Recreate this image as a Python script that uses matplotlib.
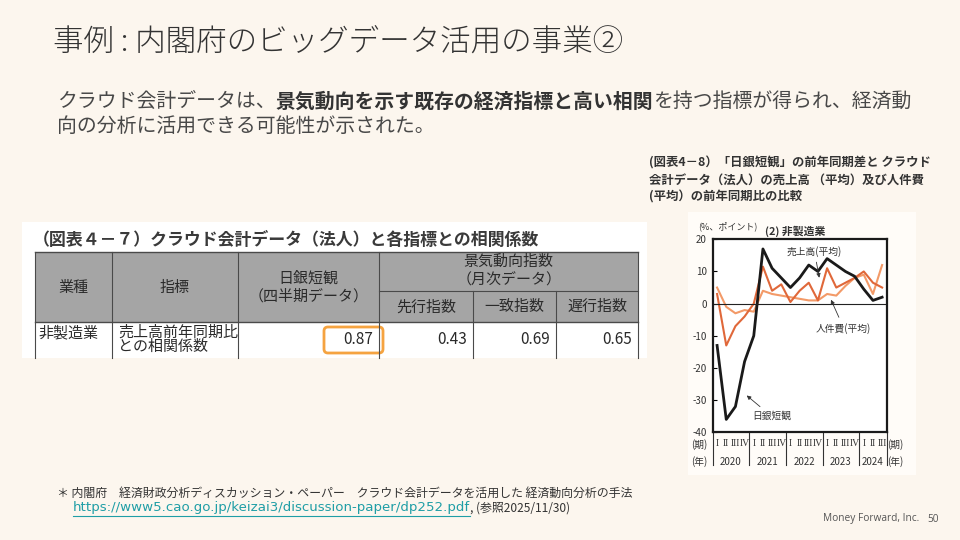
import numpy as np
import matplotlib
matplotlib.use('Agg')
import matplotlib.pyplot as plt
import matplotlib.transforms as mtransforms
from matplotlib.patches import Rectangle, FancyBboxPatch

plt.rcParams['font.family'] = ['Noto Sans CJK JP', 'DejaVu Sans']

W, H = 960, 540
bg = '#fcf6ee'

# ---- slide text
title = '事例 : 内閣府のビッグデータ活用の事業②'
body1 = [('クラウド会計データは、', 'normal'),
         ('景気動向を示す既存の経済指標と高い相関', 'bold'),
         ('を持つ指標が得られ、経済動', 'normal')]
body2 = '向の分析に活用できる可能性が示された。'
note1 = '＊ 内閣府　経済財政分析ディスカッション・ペーパー　クラウド会計データを活用した 経済動向分析の手法'
note_url = 'https://www5.cao.go.jp/keizai3/discussion-paper/dp252.pdf'
note_ref = ', (参照2025/11/30)'
caption = ['(図表4－8）「日銀短観」の前年同期差と クラウド',
           '会計データ（法人）の売上高 （平均）及び人件費',
           '(平均）の前年同期比の比較']

# ---- table data
tbl_title = '（図表４－７）クラウド会計データ（法人）と各指標との相関係数'
hdr_industry = '業種'
hdr_indicator = '指標'
hdr_tankan = ['日銀短観', '（四半期データ）']
hdr_ci = ['景気動向指数', '（月次データ）']
hdr_ci_sub = ['先行指数', '一致指数', '遅行指数']
row_industry = '非製造業'
row_indicator = ['売上高前年同期比', 'との相関係数']
row_corr = [0.87, 0.43, 0.69, 0.65]

# ---- chart data (2020 I .. 2024 III)
years = ['2020', '2021', '2022', '2023', '2024']
quarters = ['I', 'II', 'III', 'IV']
n_quarters = [4, 4, 4, 4, 3]
tankan = [-13, -36, -32, -18, -10, 17, 11, 8, 5, 8, 12, 10, 14, 12, 10, 8.5, 4.5, 1, 2]
sales = [3, -13, -7, -4, 0, 11.5, 4, 6, 0.5, 4, 6.5, 1, 11, 5, 6.5, 8, 10, 6.5, 5]
labor = [5, -1, -3, -2, -2.5, 4, 3, 2.5, 2, 1.5, 1, 1, 3, 2.5, 5.5, 8, 9, 3, 12]

fig = plt.figure(figsize=(9.6, 5.4), dpi=100)
fig.patch.set_facecolor(bg)
ax0 = fig.add_axes([0, 0, 1, 1])
ax0.set_xlim(0, W)
ax0.set_ylim(H, 0)
ax0.axis('off')

em = lambda pt: pt * 100 / 72.0

# title + body
ax0.text(53, 42, title, fontsize=22, color='#333333', va='center', fontweight='light')
fs = 14.3
x = 57
for s, w in body1:
    ax0.text(x, 101, s, fontsize=fs, fontweight=w, color='#333333' if w == 'bold' else '#484848', va='center')
    x += len(s) * em(fs)
ax0.text(57, 127, body2, fontsize=fs, color='#484848', va='center')

# footnote
ax0.text(57, 493, note1, fontsize=8.6, color='#333333', va='center')
r = fig.canvas.get_renderer()
tu = ax0.text(73, 508, note_url, fontsize=9.6, color='#1f9ea6', va='center', family='DejaVu Sans')
bb = tu.get_window_extent(renderer=r)
ax0.plot([73, 73 + bb.width], [515.5, 515.5], color='#1f9ea6', lw=0.8)
ax0.text(73 + bb.width, 508, note_ref, fontsize=8.6, color='#333333', va='center')
ax0.text(823, 519, 'Money Forward, Inc.', fontsize=7.3, color='#555555', va='center', family='Open Sans')
ax0.text(927, 519, '50', fontsize=7.3, color='#555555', va='center', family='Open Sans')

# caption of chart
for i, line in enumerate(caption):
    ax0.text(649, 163 + i * 17, line, fontsize=8.9, fontweight='bold', color='#333333', va='center')

# ---- table image
ax0.add_patch(Rectangle((22, 222), 625, 136, facecolor='white', edgecolor='none'))
ax0.text(33, 240, tbl_title, fontsize=12.2, fontweight='bold', color='#3a3a3a', va='center')
cols = [35, 111.7, 238, 379.3, 472.7, 556, 638.3]
top, split, hbot, bot = 251.7, 290.7, 321.7, 358
hgray = '#a5a5a5'
line_c = '#4a4a4a'
ax0.add_patch(Rectangle((cols[0], top), cols[-1] - cols[0], hbot - top, facecolor=hgray, edgecolor='none'))
ax0.plot([cols[0], cols[-1]], [top, top], color=line_c, lw=1)
ax0.plot([cols[0], cols[-1]], [hbot, hbot], color=line_c, lw=1)
ax0.plot([cols[3], cols[-1]], [split, split], color=line_c, lw=0.8)
for i, cx in enumerate(cols):
    y0 = split if i in (4, 5) else top
    ax0.plot([cx, cx], [y0, bot], color=line_c, lw=0.8)
hc = '#2a2a2a'
hfs = 10.8
ax0.text((cols[0] + cols[1]) / 2, 288, hdr_industry, fontsize=hfs, color=hc, ha='center', va='center')
ax0.text((cols[1] + cols[2]) / 2, 288, hdr_indicator, fontsize=hfs, color=hc, ha='center', va='center')
ax0.text((cols[2] + cols[3]) / 2, 278, hdr_tankan[0], fontsize=hfs, color=hc, ha='center', va='center')
ax0.text((cols[2] + cols[3]) / 2, 296, hdr_tankan[1], fontsize=hfs, color=hc, ha='center', va='center')
ax0.text((cols[3] + cols[-1]) / 2, 262, hdr_ci[0], fontsize=hfs, color=hc, ha='center', va='center')
ax0.text((cols[3] + cols[-1]) / 2, 280, hdr_ci[1], fontsize=hfs, color=hc, ha='center', va='center')
for i, s in enumerate(hdr_ci_sub):
    ax0.text((cols[3 + i] + cols[4 + i]) / 2, 307, s, fontsize=hfs, color=hc, ha='center', va='center')
ax0.text(38, 333, row_industry, fontsize=hfs, color=hc, va='center')
ax0.text(118, 333, row_indicator[0], fontsize=hfs, color=hc, va='center')
ax0.text(118, 347, row_indicator[1], fontsize=hfs, color=hc, va='center')
for i, v in enumerate(row_corr):
    ax0.text(cols[3 + i] - 6, 339, '%.2f' % v, fontsize=11, color=hc, ha='right', va='center')
ax0.add_patch(FancyBboxPatch((324, 327), 59, 26, boxstyle='round,pad=0,rounding_size=4',
                             facecolor='none', edgecolor='#f5a340', lw=2))

# ---- chart panel
ax0.add_patch(Rectangle((688, 212), 228, 263, facecolor='#fffcf8', edgecolor='none'))
ax = fig.add_axes([712.5 / W, 1 - 432.3 / H, (886.7 - 712.5) / W, (432.3 - 239.3) / H])
ax.set_facecolor('white')
xq = np.arange(len(tankan)) + 0.5
ax.plot(xq, labor, color='#f39a68', lw=1.5)
ax.plot(xq, sales, color='#e0683a', lw=1.5)
ax.plot(xq, tankan, color='#1a1a1a', lw=2)
ax.axhline(0, color='#222222', lw=0.8)
ax.set_xlim(0, len(tankan))
ax.set_ylim(-40, 20)
ax.set_yticks([20, 10, 0, -10, -20, -30, -40])
ax.set_yticklabels(['20', '10', '0', '-10', '-20', '-30', '-40'])
ax.set_xticks([])
ax.tick_params(axis='y', direction='in', length=3, width=0.8, labelsize=7, pad=4, labelcolor='#333333')
for sp in ax.spines.values():
    sp.set_linewidth(1.6)
    sp.set_color('#1a1a1a')

tr = mtransforms.blended_transform_factory(ax.transData, ax.transAxes)
edges = np.concatenate([[0], np.cumsum(n_quarters)])
for e in edges:
    ax.plot([e, e], [0, -0.17], transform=tr, color='#333333', lw=0.8, clip_on=False)
k = 0
for yi, yr in enumerate(years):
    for q in range(n_quarters[yi]):
        ax.text(k + 0.5, -0.06, quarters[q], transform=tr, fontsize=7, ha='center', va='center',
                color='#333333', family='Liberation Serif')
        k += 1
    ax.text((edges[yi] + edges[yi + 1]) / 2, -0.153, yr, transform=tr, fontsize=7, ha='center', va='center', color='#333333')
ax.text(-0.03, -0.065, '(期)', transform=ax.transAxes, fontsize=7, ha='right', va='center', color='#333333')
ax.text(-0.03, -0.15, '(年)', transform=ax.transAxes, fontsize=7, ha='right', va='center', color='#333333')
ax.text(1.0, -0.065, '(期)', transform=ax.transAxes, fontsize=7, ha='left', va='center', color='#333333')
ax.text(1.0, -0.15, '(年)', transform=ax.transAxes, fontsize=7, ha='left', va='center', color='#333333')
ax.text(-0.08, 1.065, '(%、ポイント)', transform=ax.transAxes, fontsize=6.5, ha='left', va='center', color='#333333')
ax.text(0.3, 1.04, '(2) 非製造業', transform=ax.transAxes, fontsize=7.8, fontweight='bold', ha='left', va='center', color='#333333')

ap = dict(arrowstyle='-|>', color='#333333', lw=0.6, mutation_scale=6)
ax.annotate('売上高(平均)', xy=(11.7, 7.2), xytext=(8.1, 16.3), fontsize=7, color='#333333',
            arrowprops=ap, ha='left', va='center')
ax.annotate('人件費(平均)', xy=(12.8, 2), xytext=(11.3, -7.6), fontsize=7, color='#333333',
            arrowprops=ap, ha='left', va='center')
ax.annotate('日銀短観', xy=(3.5, -28), xytext=(4.3, -35), fontsize=7, color='#333333',
            arrowprops=ap, ha='left', va='center')

fig.savefig('out.png', dpi=100, facecolor=bg)
